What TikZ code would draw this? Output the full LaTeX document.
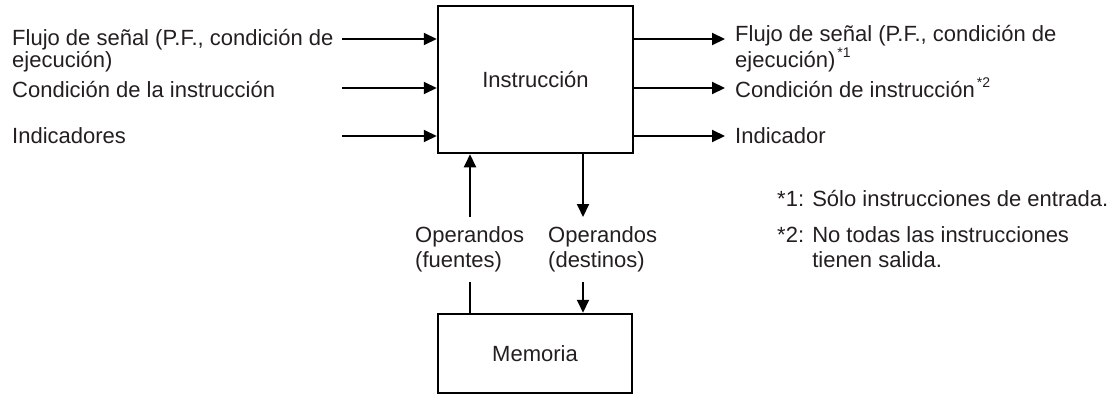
\documentclass[tikz,border=0pt]{standalone}
\usepackage{fontspec}
\setmainfont{Liberation Sans}
\usetikzlibrary{arrows.meta}
\definecolor{tinta}{HTML}{231F20}
\newcommand\nota[1]{\kern2pt\raisebox{10pt}{\fontsize{14}{14}\selectfont *#1}}
\tikzset{
  lbl/.style={inner sep=0pt, align=left, anchor=base west, text=tinta,
    font=\fontsize{22}{20}\selectfont},
  blk/.style={draw, line width=2.5pt, inner sep=0pt, text=tinta,
    font=\fontsize{22}{20}\selectfont},
  flow/.style={line width=2pt, -{Triangle[length=13pt,width=12pt]}},
  wire/.style={line width=2pt},
}
\begin{document}
\begin{tikzpicture}[x=1pt,y=-1pt]
\useasboundingbox (0,0) rectangle (1107,396);
%blocks
\node[blk, minimum width=195pt, minimum height=147pt] (instr) at (535.5,79.5) {Instrucción};
\node[blk, minimum width=194pt, minimum height=79pt] (mem) at (535,353.5) {Memoria};
%inputs
\node[lbl] (influjo) at (12,67) {Flujo de señal (P.F., condición de\\ejecución)};
\node[lbl] (incond) at (12,97) {Condición de la instrucción};
\node[lbl] (inind) at (12,143) {Indicadores};
\coordinate (a1) at (342,39);
\coordinate (a2) at (342,88);
\coordinate (a3) at (342,136);
\draw[flow] (a1) -- (instr.west |- a1);
\draw[flow] (a2) -- (instr.west |- a2);
\draw[flow] (a3) -- (instr.west |- a3);
%outputs
\node[lbl] (outflujo) at (735,67) {Flujo de señal (P.F., condición de\\ejecución)\nota{1}};
\node[lbl] (outcond) at (735,97) {Condición de instrucción\nota{2}};
\node[lbl] (outind) at (735,143) {Indicador};
\coordinate (b1) at (725,39);
\coordinate (b2) at (725,88);
\coordinate (b3) at (725,136);
\draw[flow] (instr.east |- b1) -- (b1);
\draw[flow] (instr.east |- b2) -- (b2);
\draw[flow] (instr.east |- b3) -- (b3);
%operands
\node[lbl, font=\fontsize{22}{25}\selectfont] (fuentes) at (415,267) {Operandos\\(fuentes)};
\node[lbl, font=\fontsize{22}{25}\selectfont] (destinos) at (548,267) {Operandos\\(destinos)};
\coordinate (s1) at (470,217);
\coordinate (s2) at (470,282);
\coordinate (d1) at (583,217);
\coordinate (d2) at (583,282);
\draw[flow] (s1) -- (instr.south -| s1);
\draw[wire] (s2) -- (mem.north -| s2);
\draw[flow] (instr.south -| d1) -- (d1);
\draw[flow] (d2) -- (mem.north -| d2);
%notes
\node[lbl] (nota1) at (777,206) {*1: Sólo instrucciones de entrada.};
\node[lbl, font=\fontsize{22}{25}\selectfont] (nota2) at (777,267) {*2: No todas las instrucciones\\\phantom{*2: }tienen salida.};
\end{tikzpicture}
\end{document}
